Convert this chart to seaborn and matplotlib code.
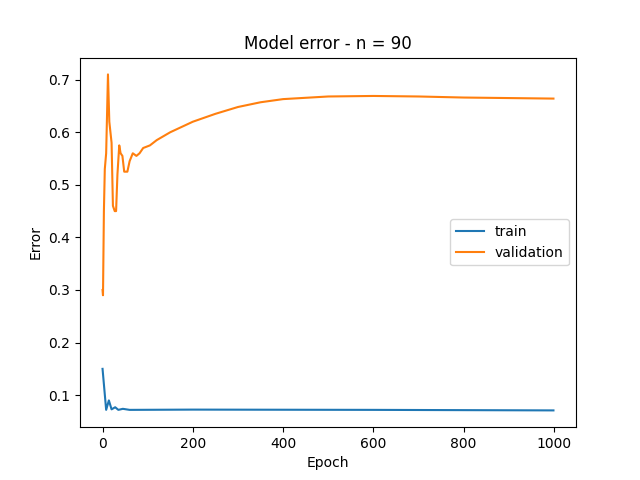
import matplotlib
matplotlib.use("Agg")
import matplotlib.pyplot as plt
import seaborn as sns

val_epochs = [0, 1, 3, 5, 8, 12, 15, 20, 23, 27, 30, 33, 37, 40, 44, 48, 55, 60, 67, 75,
              82, 90, 105, 120, 150, 200, 250, 300, 350, 400, 500, 600, 700, 800, 900, 999]
val_error = [0.30, 0.29, 0.45, 0.53, 0.56, 0.71, 0.62, 0.58, 0.46, 0.45, 0.45, 0.52, 0.575,
             0.56, 0.555, 0.525, 0.525, 0.545, 0.56, 0.555, 0.56, 0.57, 0.575, 0.585, 0.60,
             0.62, 0.635, 0.648, 0.657, 0.663, 0.668, 0.669, 0.668, 0.666, 0.665, 0.664]
train_epochs = [0, 8, 14, 20, 28, 35, 45, 60, 200, 600, 999]
train_error = [0.15, 0.072, 0.09, 0.073, 0.077, 0.072, 0.074, 0.072, 0.0725, 0.072, 0.071]

fig, ax = plt.subplots(figsize=(6.4, 4.8), dpi=100)
sns.lineplot(x=train_epochs, y=train_error, ax=ax, label="train", color="#1f77b4")
sns.lineplot(x=val_epochs, y=val_error, ax=ax, label="validation", color="#ff7f0e")
ax.set_title("Model error - n = 90")
ax.set_xlabel("Epoch")
ax.set_ylabel("Error")
ax.legend(loc="center right")
fig.savefig("out.png")
